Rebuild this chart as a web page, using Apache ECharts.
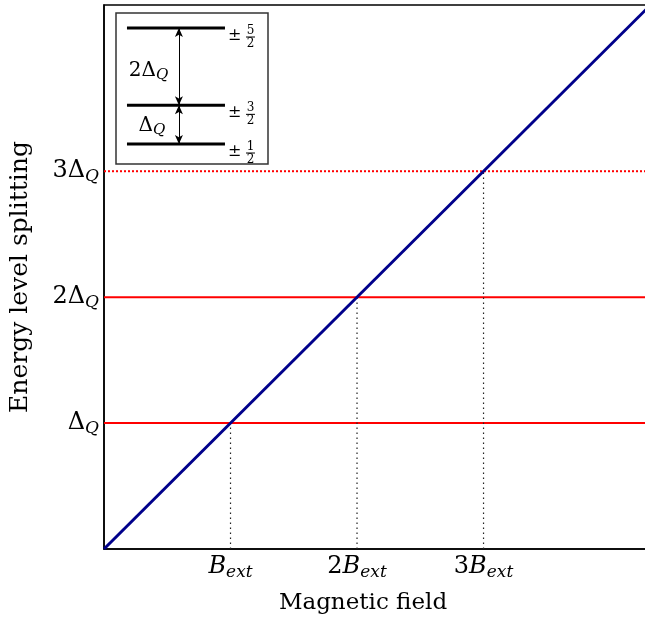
<!DOCTYPE html>
<html>
<head>
<meta charset="utf-8">
<script src="https://cdn.jsdelivr.net/npm/echarts@6/dist/echarts.min.js"></script>
<style>
  html, body { margin: 0; padding: 0; background: #fff; }
  #chart { width: 645px; height: 623px; }
</style>
</head>
<body>
<div id="chart"></div>
<script>
// field values where the Zeeman splitting matches the quadrupole levels
const crossingFields = [1, 2, 3];
const splittingLevels = [1, 2, 3];
const levelLineTypes = ["solid", "solid", "dotted"];
const diagonal = [[0, 0], [4.4, 4.4]];

// tick labels (rich text)
const xTickLabels = ["", "{i|B}{s|ext}", "{m|2}{i|B}{s|ext}", "{m|3}{i|B}{s|ext}", ""];
const yTickLabels = ["", "{m|Δ}{s|Q}", "{m|2Δ}{s|Q}", "{m|3Δ}{s|Q}", ""];

// inset: energy levels in units of ΔQ
const insetLevels = [0, 1, 3];
const insetNumerators = ["1", "3", "5"];
const insetArrows = [[0, 1], [1, 3]];
const insetArrowX = 0.53;
const insetTexts = [
  { pos: [0.22, 1.89], text: "{m|2Δ}{s|Q}" },
  { pos: [0.255, 0.47], text: "{m|Δ}{s|Q}" },
];

const serif = "DejaVu Serif";
const rich = {
  m: { fontFamily: serif, fontSize: 24, color: "#000" },
  i: { fontFamily: serif, fontSize: 24, fontStyle: "italic", color: "#000" },
  s: { fontFamily: serif, fontSize: 17, fontStyle: "italic", color: "#000", padding: [11, 0, 0, 0] },
};
const insetRich = {
  m: { fontFamily: serif, fontSize: 20, color: "#000" },
  s: { fontFamily: serif, fontSize: 15, fontStyle: "italic", color: "#000", padding: [9, 0, 0, 0] },
};

const chart = echarts.init(document.getElementById("chart"));

const option = {
  animation: false,
  backgroundColor: "#fff",
  grid: [
    { left: 104, right: -3, top: 5, bottom: 74, outerBoundsMode: "none",
      show: true, borderColor: "#000", borderWidth: 1.5 },
    { left: 116, top: 13, width: 152, height: 151, outerBoundsMode: "none",
      show: true, borderColor: "#333", borderWidth: 1.5, backgroundColor: "#fff", z: 5 },
  ],
  xAxis: [
    {
      type: "value", min: 0, max: 4.3, interval: 1,
      splitLine: { show: false }, axisTick: { show: false },
      axisLine: { lineStyle: { color: "#000", width: 1.5 } },
      axisLabel: { margin: 4, showMaxLabel: false, formatter: (v) => xTickLabels[v] || "", rich: rich },
      name: "Magnetic field", nameLocation: "middle", nameGap: 43,
      nameTextStyle: { fontFamily: serif, fontSize: 23, color: "#000", padding: [0, 26, 0, 0] },
    },
    { gridIndex: 1, type: "value", min: -0.112, max: 1.439, show: false },
  ],
  yAxis: [
    {
      type: "value", min: 0, max: 4.32, interval: 1,
      splitLine: { show: false }, axisTick: { show: false },
      axisLabel: { margin: 5, showMaxLabel: false, formatter: (v) => yTickLabels[v] || "", rich: rich },
      axisLine: { lineStyle: { color: "#000", width: 1.5 } },
      name: "Energy level splitting", nameLocation: "middle", nameGap: 71,
      nameTextStyle: { fontFamily: serif, fontSize: 25, color: "#000" },
    },
    { gridIndex: 1, type: "value", min: -0.517, max: 3.388, show: false },
  ],
  series: [
    ...splittingLevels.map((L, k) => ({
      type: "line", data: [[0, L], [4.3, L]], symbol: "none", silent: true,
      lineStyle: { color: "#ff0000", width: 2, type: levelLineTypes[k] },
    })),
    ...crossingFields.map((B) => ({
      type: "line", data: [[B, 0], [B, B]], symbol: "none", silent: true,
      lineStyle: { color: "#222", width: 1.2, type: [1.5, 3.5] },
    })),
    {
      type: "line", data: diagonal, symbol: "none", silent: true, clip: true,
      lineStyle: { color: "#00008b", width: 3 },
    },
    // inset
    ...insetLevels.map((L) => ({
      type: "line", xAxisIndex: 1, yAxisIndex: 1, z: 6, data: [[0, L], [1, L]],
      symbol: "none", silent: true, lineStyle: { color: "#000", width: 3 },
    })),
    {
      type: "scatter", xAxisIndex: 1, yAxisIndex: 1, z: 7, symbolSize: 0, silent: true,
      itemStyle: { opacity: 1 },
      data: insetLevels.map((L) => [1, L]),
      label: { show: true, position: "right", distance: 3, offset: [0, 8], formatter: "±",
        fontFamily: serif, fontSize: 16, color: "#000" },
    },
    {
      type: "scatter", xAxisIndex: 1, yAxisIndex: 1, z: 7, symbolSize: 0, silent: true,
      itemStyle: { opacity: 1 },
      data: insetLevels.map((L) => [1, L]),
      label: {
        show: true, position: "right", distance: 3, offset: [18, 9],
        formatter: (p) => "{n|" + insetNumerators[p.dataIndex] + "}\n{b|}\n{n|2}",
        rich: {
          n: { fontFamily: serif, fontSize: 12, color: "#000", lineHeight: 11, align: "center" },
          b: { width: 9, height: 1, backgroundColor: "#000", lineHeight: 2, align: "center" },
        },
      },
    },
    {
      type: "scatter", xAxisIndex: 1, yAxisIndex: 1, z: 7, symbolSize: 0, silent: true,
      itemStyle: { opacity: 1 },
      data: insetTexts.map((t) => t.pos),
      label: { show: true, position: "inside", formatter: (p) => insetTexts[p.dataIndex].text, rich: insetRich },
    },
    {
      type: "line", xAxisIndex: 1, yAxisIndex: 1, z: 7, data: [], silent: true,
      markLine: {
        silent: true, symbol: ["arrow", "arrow"], symbolSize: [6, 9],
        label: { show: false },
        lineStyle: { color: "#000", width: 1, type: "solid" },
        data: insetArrows.map((a) => [{ coord: [insetArrowX, a[0]] }, { coord: [insetArrowX, a[1]] }]),
      },
    },
  ],
};

chart.setOption(option);
</script>
</body>
</html>
